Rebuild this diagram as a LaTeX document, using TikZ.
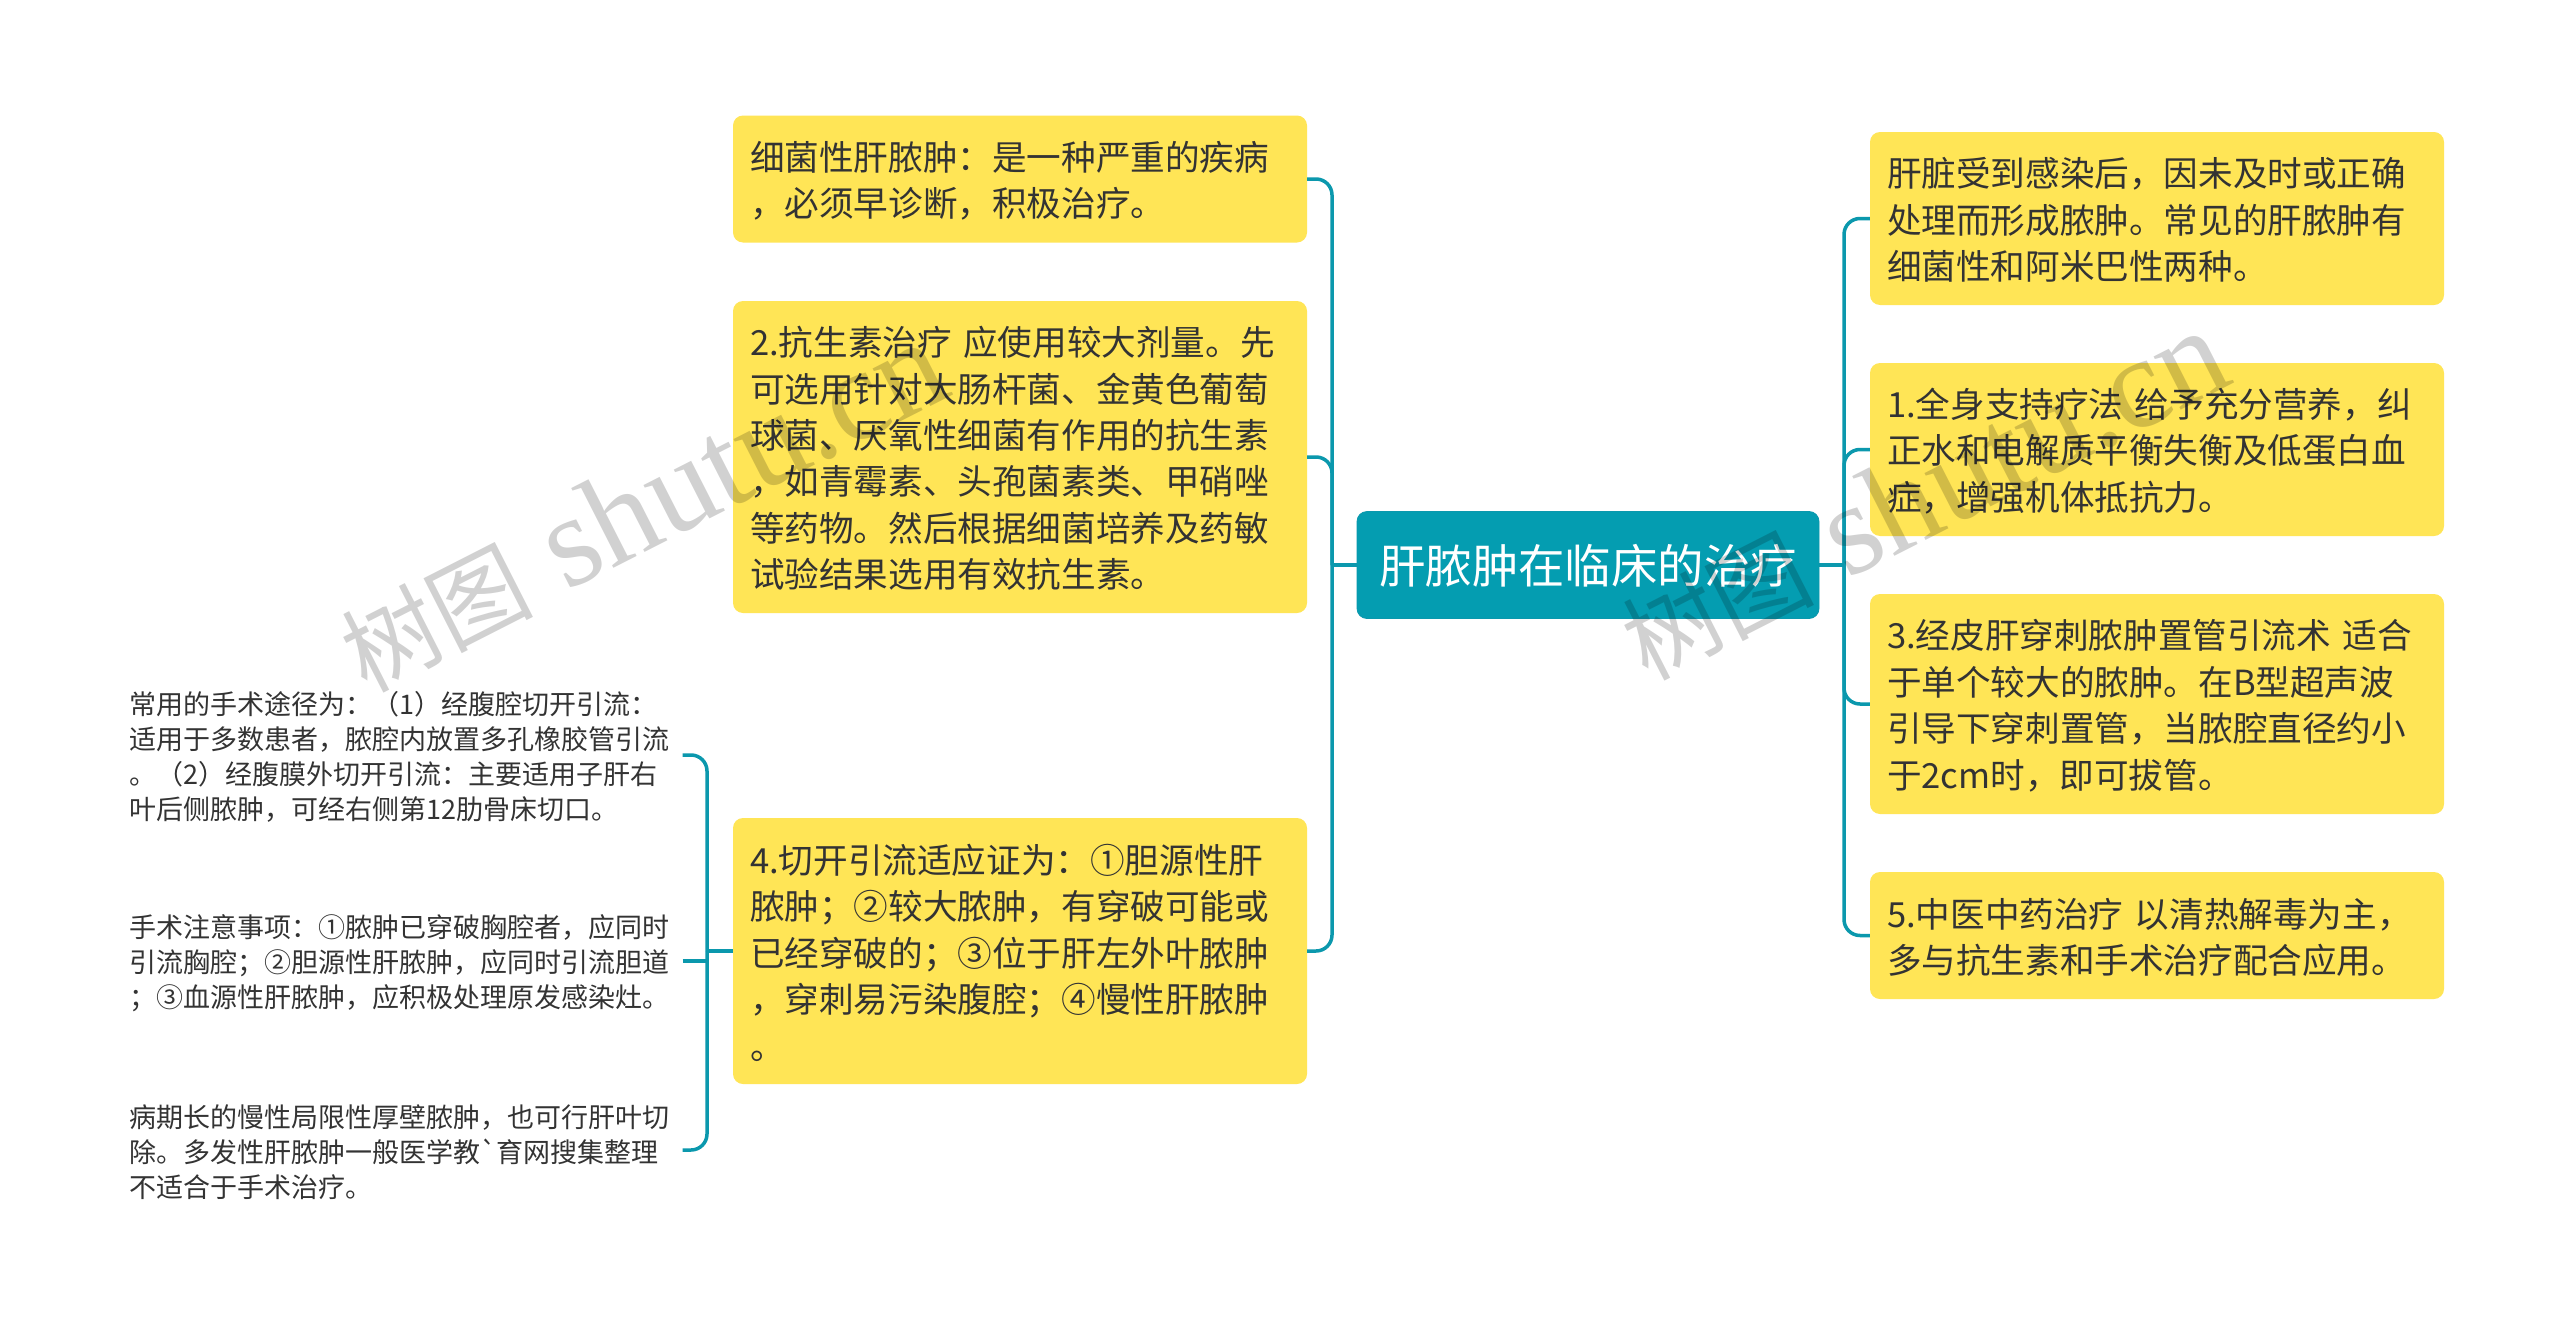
\documentclass[tikz,border=0pt]{standalone}
\usepackage{xcolor}
\usepackage{fontspec}
\newfontfamily\cjk{Noto Sans CJK SC}
\newfontfamily\wmserif{Liberation Serif}
\definecolor{rootfill}{HTML}{049DB1}
\definecolor{cardfill}{HTML}{FFE556}
\definecolor{linkcol}{HTML}{0B98AD}
\definecolor{ink}{HTML}{333333}
\tikzset{
  rootbox/.style={fill=rootfill, draw=linkcol, line width=0.8pt, rounded corners=10pt, minimum width=462pt, minimum height=107pt, text depth=2.5pt, text=white, font=\cjk\fontsize{46.4}{56}\selectfont},
  card/.style={fill=cardfill, rounded corners=10pt, inner xsep=17pt, inner ysep=0pt, text width=540pt, align=left, text=ink, font=\cjk\fontsize{34.6}{46.4}\selectfont, execute at begin node={\rule{0pt}{0.94em}}},
  leaf/.style={inner xsep=0pt, inner ysep=0pt, text width=553pt, align=left, text=ink, font=\cjk\fontsize{27}{34.8}\selectfont, execute at begin node={\rule{0pt}{1em}}},
  link/.style={draw=linkcol, line width=3.5pt, rounded corners=16pt},
  wm/.style={text=black, opacity=0.18, rotate=27, font=\wmserif\fontsize{130}{130}\selectfont},
}
\begin{document}
\begin{tikzpicture}[x=1pt,y=-1pt]
  \useasboundingbox (0,0) rectangle (2560,1330);
  \fill[white] (0,0) rectangle (2560,1330);

  \node[rootbox] (root) at (1588,565) {肝脓肿在临床的治疗};
  \coordinate (lhub) at (1332,565);
  \coordinate (rhub) at (1844,565);

  \node[card, minimum height=127pt] (bl1) at (1020,179) {细菌性肝脓肿：是一种严重的疾病\\，必须早诊断，积极治疗。};
  \node[card, minimum height=312pt] (bl2) at (1020,457) {2.抗生素治疗 应使用较大剂量。先\\可选用针对大肠杆菌、金黄色葡萄\\球菌、厌氧性细菌有作用的抗生素\\，如青霉素、头孢菌素类、甲硝唑\\等药物。然后根据细菌培养及药敏\\试验结果选用有效抗生素。};
  \node[card, minimum height=266pt] (bl3) at (1020,951) {4.切开引流适应证为：①胆源性肝\\脓肿；②较大脓肿，有穿破可能或\\已经穿破的；③位于肝左外叶脓肿\\，穿刺易污染腹腔；④慢性肝脓肿\\。};

  \node[card, minimum height=173pt] (br1) at (2157,218.5) {肝脏受到感染后，因未及时或正确\\处理而形成脓肿。常见的肝脓肿有\\细菌性和阿米巴性两种。};
  \node[card, minimum height=173pt] (br2) at (2157,449.5) {1.全身支持疗法 给予充分营养，纠\\正水和电解质平衡失衡及低蛋白血\\症，增强机体抵抗力。};
  \node[card, minimum height=220pt] (br3) at (2157,704) {3.经皮肝穿刺脓肿置管引流术 适合\\于单个较大的脓肿。在B型超声波\\引导下穿刺置管，当脓腔直径约小\\于2cm时，即可拔管。};
  \node[card, minimum height=127pt] (br4) at (2157,935.5) {5.中医中药治疗 以清热解毒为主，\\多与抗生素和手术治疗配合应用。};

  \node[leaf] (leaf1) at (406,755) {常用的手术途径为：（1）经腹腔切开引流：\\适用于多数患者，脓腔内放置多孔橡胶管引流\\。（2）经腹膜外切开引流：主要适用子肝右\\叶后侧脓肿，可经右侧第12肋骨床切口。};
  \node[leaf] (leaf2) at (406,961) {手术注意事项：①脓肿已穿破胸腔者，应同时\\引流胸腔；②胆源性肝脓肿，应同时引流胆道\\；③血源性肝脓肿，应积极处理原发感染灶。};
  \node[leaf] (leaf3) at (406,1150) {病期长的慢性局限性厚壁脓肿，也可行肝叶切\\除。多发性肝脓肿一般医学教`育网搜集整理\\不适合于手术治疗。};
  \coordinate (subhub) at (707,951);

  \draw[link] (root.west) -- (lhub);
  \draw[link] (root.east) -- (rhub);
  \foreach \n in {bl1,bl2,bl3}{\draw[link] (\n.east) -| (lhub);}
  \foreach \n in {br1,br2,br3,br4}{\draw[link] (\n.west) -| (rhub);}
  \foreach \n in {leaf1,leaf3}{\draw[link] (\n.east) -| (subhub);}
  \draw[link] (leaf2.east) -- (leaf2.east -| subhub);
  \draw[link] (bl3.west) -- (subhub);

  \node[wm] (wmleft) at (642,507) {{\cjk\fontsize{96}{96}\selectfont 树图} shutu.cn};
  \node[wm] (wmright) at (1923,495) {{\cjk\fontsize{96}{96}\selectfont 树图} shutu.cn};
\end{tikzpicture}
\end{document}
